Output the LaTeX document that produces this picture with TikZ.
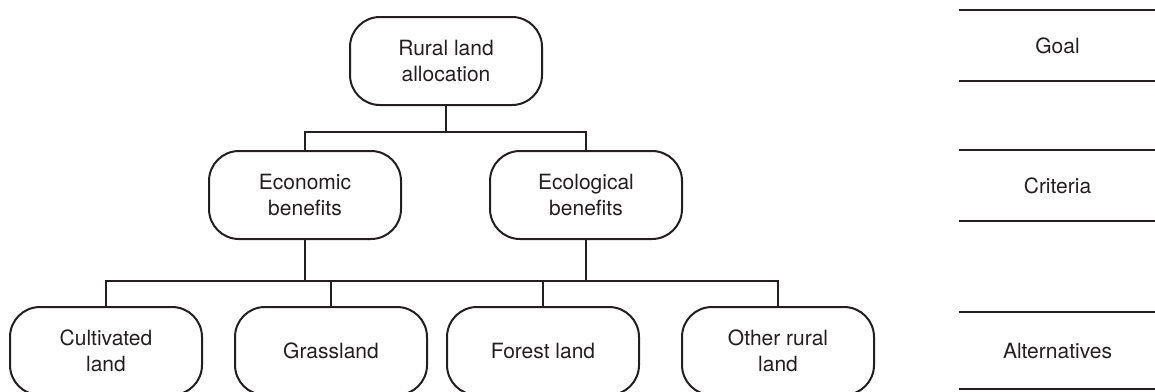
\documentclass[tikz,border=0pt]{standalone}
\usepackage{fontspec}
\setmainfont{TeX Gyre Heros}
\usetikzlibrary{positioning}
\definecolor{ink}{HTML}{231F20}

\begin{document}
\begin{tikzpicture}[x=0.5pt,y=-0.5pt,line width=1pt,draw=ink,
            main node/.style={rectangle,rounded corners=15pt,draw=ink,text=ink,
              minimum width=96pt,minimum height=44pt,align=center,
              font=\fontsize{10.5}{13}\selectfont},
            level node/.style={rectangle,text=ink,minimum width=98pt,
              inner sep=0pt,font=\fontsize{10.5}{13}\selectfont},
            rule/.style={line width=1.25pt,draw=ink}]
        \useasboundingbox (0,0) rectangle (1155,391);

        % Define vertices
        \node[main node] (goal) at (446,61) {Rural land\\allocation};
        \node[main node] (eco) at (305,195) {Economic\\benefits};
        \node[main node] (env) at (586,195) {Ecological\\benefits};
        \node[main node] (cult) at (106,351) {Cultivated\\land};
        \node[main node] (grass) at (331,351) {Grassland};
        \node[main node] (forest) at (543,351) {Forest land};
        \node[main node] (other) at (778,351) {Other rural\\land};

        % Level labels
        \node[level node,minimum height=34.5pt] (lgoal) at (1057.5,45.5) {Goal};
        \node[level node,minimum height=34.5pt] (lcrit) at (1057.5,185.5) {Criteria};
        \node[level node,minimum height=37.5pt] (lalt) at (1057.5,350.5) {Alternatives};

        \coordinate (topbus) at (446,132);
        \coordinate (lowbus) at (0,281);

        % Draw edges
        \draw (goal.south) -- (topbus);
        \draw (eco.north) -- (eco.north |- topbus) -- (env.north |- topbus) -- (env.north);
        \draw (cult.north) -- (cult.north |- lowbus) -- (other.north |- lowbus) -- (other.north);
        \draw (grass.north) -- (grass.north |- lowbus);
        \draw (forest.north) -- (forest.north |- lowbus);
        \draw (eco.south) -- (eco.south |- lowbus);
        \draw (env.south) -- (env.south |- lowbus);

        % Level rules
        \foreach \l in {lgoal,lcrit,lalt}
            \draw[rule] (\l.north west) -- (\l.north east)
                        (\l.south west) -- (\l.south east);

        \end{tikzpicture}
\end{document}
